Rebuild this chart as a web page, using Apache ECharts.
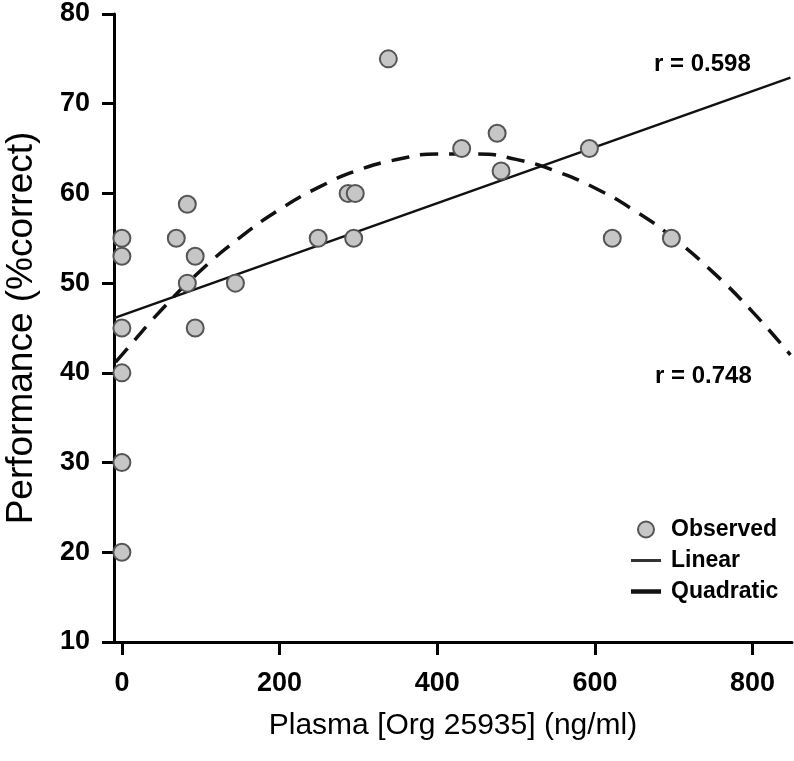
<!DOCTYPE html>
<html>
<head>
<meta charset="utf-8">
<script src="https://cdn.jsdelivr.net/npm/echarts@6/dist/echarts.min.js"></script>
<style>
html,body{margin:0;padding:0;background:#fff;}
#chart{width:794px;height:761px;}
</style>
</head>
<body>
<div id="chart"></div>
<script>
// Observed data
const obsX = [0, 0, 0, 0, 0, 0, 69, 83, 83, 93, 93, 144, 249, 287, 296, 294, 338, 431, 476, 481, 593, 622, 697];
const obsY = [55, 53, 45, 40, 30, 20, 55, 58.8, 50, 53, 45, 50, 55, 60, 60, 55, 75, 65, 66.7, 62.5, 65, 55, 55];
// Linear fit (read at its two ends)
const linX = [-10, 848];
const linY = [46.1, 72.9];
// Quadratic fit
const quadX = [-8, 0, 50, 100, 150, 200, 250, 300, 350, 400, 450, 500, 550, 600, 650, 700, 750, 800, 848];
const quadY = [41.2, 42.0, 47.0, 51.4, 55.1, 58.2, 60.7, 62.6, 63.8, 64.4, 64.4, 63.8, 62.5, 60.6, 58.1, 55.0, 51.2, 46.8, 42.0];
// Ticks
const xTicks = [0, 200, 400, 600, 800];
const rLabels = ['r = 0.598', 'r = 0.748'];

const FONT = '"Liberation Sans", Arial, sans-serif';
const zip = (a, b) => a.map((v, i) => [v, b[i]]);

const chart = echarts.init(document.getElementById('chart'), null, {renderer: 'canvas'});
chart.setOption({
  animation: false,
  backgroundColor: '#ffffff',
  grid: {left: 114, right: 2, top: 14, bottom: 119, containLabel: false, outerBoundsMode: 'none'},
  xAxis: {
    type: 'value', min: -10, max: 850,
    name: 'Plasma [Org 25935] (ng/ml)', nameLocation: 'middle', nameGap: 69,
    nameTextStyle: {fontFamily: FONT, fontSize: 30, color: '#000'},
    axisLine: {onZero: false, lineStyle: {color: '#000', width: 3}},
    axisTick: {show: true, length: 13, lineStyle: {color: '#000', width: 3}, customValues: xTicks},
    axisLabel: {customValues: xTicks, margin: 28, fontFamily: FONT, fontWeight: 'bold', fontSize: 27, color: '#000'},
    splitLine: {show: false}
  },
  yAxis: {
    type: 'value', min: 10, max: 80, interval: 10,
    name: 'Performance (%correct)', nameLocation: 'middle', nameGap: 74,
    nameTextStyle: {fontFamily: FONT, fontSize: 37, color: '#000'},
    axisLine: {onZero: false, lineStyle: {color: '#000', width: 3}},
    axisTick: {show: true, length: 12, lineStyle: {color: '#000', width: 3}},
    axisLabel: {margin: 24, fontFamily: FONT, fontWeight: 'bold', fontSize: 27, color: '#000'},
    splitLine: {show: false}
  },
  legend: {
    orient: 'vertical', left: 626, top: 513,
    itemWidth: 30, itemHeight: 16, itemGap: 8,
    textStyle: {fontFamily: FONT, fontWeight: 'bold', fontSize: 23, color: '#000', padding: [0, 0, 0, 5]},
    data: [
      {name: 'Observed', icon: 'circle'},
      {name: 'Linear', icon: 'path://M0,0L30,0L30,3L0,3Z'},
      {name: 'Quadratic', icon: 'path://M0,0L30,0L30,4.5L0,4.5Z'}
    ]
  },
  graphic: [
    {type: 'text', left: 654, top: 52, style: {text: rLabels[0], font: 'bold 24px ' + FONT, fill: '#000'}},
    {type: 'text', left: 655, top: 364, style: {text: rLabels[1], font: 'bold 24px ' + FONT, fill: '#000'}}
  ],
  series: [
    {
      name: 'Linear', type: 'line', data: zip(linX, linY), showSymbol: false, symbol: 'none',
      itemStyle: {color: '#333'},
      lineStyle: {color: '#111', width: 2.5}, z: 2
    },
    {
      name: 'Quadratic', type: 'line', data: zip(quadX, quadY), smooth: true, showSymbol: false, symbol: 'none',
      itemStyle: {color: '#111'},
      lineStyle: {color: '#111', width: 3.5, type: [18, 11]}, z: 2
    },
    {
      name: 'Observed', type: 'scatter', data: zip(obsX, obsY), symbol: 'circle', symbolSize: 17,
      itemStyle: {color: '#c6c6c6', borderColor: '#555', borderWidth: 2, opacity: 1}, z: 3
    }
  ]
});
</script>
</body>
</html>
